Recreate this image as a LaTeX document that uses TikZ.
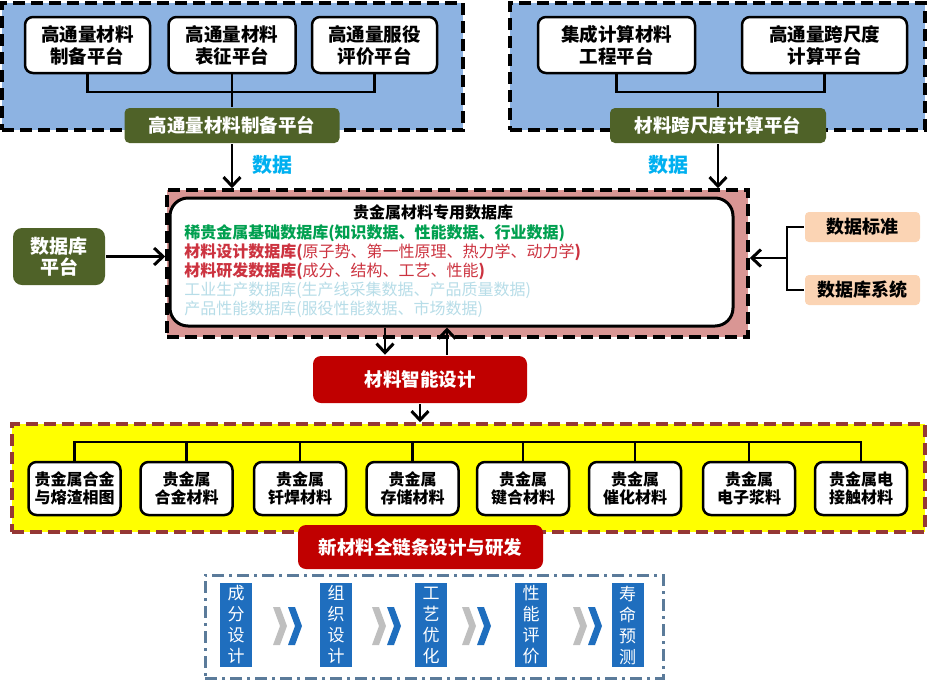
\documentclass[tikz,border=0pt]{standalone}
\usepackage{fontspec}
\setmainfont{Noto Sans CJK SC}
\usetikzlibrary{arrows.meta}
\definecolor{topblue}{HTML}{8DB3E2}
\definecolor{platgreen}{HTML}{4F6228}
\definecolor{dbpink}{HTML}{D99694}
\definecolor{peach}{HTML}{FBD4B4}
\definecolor{designred}{HTML}{C00000}
\definecolor{matyellow}{HTML}{FFFF00}
\definecolor{framebrown}{HTML}{953735}
\definecolor{chaingray}{HTML}{5B7B9A}
\definecolor{stageblue}{HTML}{1F6EBE}
\definecolor{chevgray}{HTML}{BFBFBF}
\definecolor{textgreen}{HTML}{00A050}
\definecolor{textred}{HTML}{CC3340}
\definecolor{textpale}{HTML}{B7DDE8}
\definecolor{datacyan}{HTML}{00B0F0}
\begin{document}
\begin{tikzpicture}[x=1pt, y=-1pt, line width=2.5pt,
  >={Straight Barb[length=9pt,width=17pt,line width=3pt]},
  dashframe/.style={draw, line width=3.5pt, dash pattern=on 12pt off 6pt, inner sep=0pt},
  platbox/.style={draw, fill=white, rounded corners=8pt, minimum height=56pt, inner sep=0pt, align=center, font=\bfseries\fontsize{18.5}{22}\selectfont},
  greentag/.style={fill=platgreen, text=white, rounded corners=5pt, inner sep=0pt, font=\bfseries\fontsize{18.5}{22}\selectfont},
  redtag/.style={fill=designred, text=white, rounded corners=8pt, inner sep=0pt, font=\bfseries\fontsize{18.5}{22}\selectfont},
  peachtag/.style={fill=peach, rounded corners=4pt, minimum width=115pt, minimum height=30pt, inner sep=0pt, font=\bfseries\fontsize{18}{22}\selectfont},
  matbox/.style={draw, fill=white, rounded corners=8pt, minimum width=92pt, minimum height=53pt, inner sep=0pt, align=center, font=\bfseries\fontsize{16}{18.5}\selectfont},
  stagebox/.style={fill=stageblue, text=white, minimum width=32pt, minimum height=84pt, inner sep=0pt, align=center, font=\fontsize{17}{21}\selectfont},
  datalabel/.style={text=datacyan, font=\bfseries\fontsize{20}{24}\selectfont},
  dbline/.style={anchor=base west, inner sep=0pt, font=\fontsize{16}{19}\selectfont}]
  \useasboundingbox (0,0) rectangle (927,681);

  \node[dashframe, fill=topblue, minimum width=461pt, minimum height=127pt] (leftpanel) at (232.5,66.5) {};
  \node[dashframe, fill=topblue, minimum width=415pt, minimum height=127pt] (rightpanel) at (717.5,66.5) {};
  \node[platbox, minimum width=125pt] (prep) at (87.5,45) {高通量材料\\制备平台};
  \node[platbox, minimum width=127pt] (charac) at (232,45) {高通量材料\\表征平台};
  \node[platbox, minimum width=125pt] (service) at (374.5,45) {高通量服役\\评价平台};
  \node[platbox, minimum width=157pt] (integ) at (616.5,45) {集成计算材料\\工程平台};
  \node[platbox, minimum width=165pt] (multi) at (824.5,45) {高通量跨尺度\\计算平台};
  \node[greentag, minimum width=215pt, minimum height=35pt] (expplat) at (232,125.5) {高通量材料制备平台};
  \node[greentag, minimum width=216pt, minimum height=35pt] (compplat) at (718,125.5) {材料跨尺度计算平台};
  \coordinate (topbus) at (0,92);
  \draw (prep.south) |- (topbus -| service.south) -- (service.south);
  \draw (charac.south) -- (expplat.north);
  \draw (integ.south) |- (topbus -| multi.south) -- (multi.south);
  \draw (compplat.north) -- (compplat.north |- topbus);

  \node[dashframe, fill=dbpink, minimum width=581pt, minimum height=147pt] (dbframe) at (457.5,263.5) {};
  \node[draw, fill=white, line width=3pt, rounded corners=18pt, minimum width=563pt, minimum height=128pt, inner sep=0pt] (dbbox) at (451.5,262) {};
  \node[anchor=base, inner sep=0pt, font=\bfseries\fontsize{16}{19}\selectfont] (dbtitle) at (433,218) {贵金属材料专用数据库};
  \node[dbline, text=textgreen, font=\bfseries\fontsize{16}{19}\selectfont] (dbl1) at (183,238) {稀贵金属基础数据库(知识数据、性能数据、行业数据)};
  \node[dbline, text=textred] (dbl2) at (183,257) {{\bfseries 材料设计数据库(}原子势、第一性原理、热力学、动力学{\bfseries )}};
  \node[dbline, text=textred] (dbl3) at (183,276) {{\bfseries 材料研发数据库(}成分、结构、工艺、性能{\bfseries )}};
  \node[dbline, text=textpale] (dbl4) at (183,295) {工业生产数据库(生产线采集数据、产品质量数据)};
  \node[dbline, text=textpale] (dbl5) at (183,314) {产品性能数据库(服役性能数据、市场数据)};

  \draw[->] (expplat.south) -- (expplat.south |- dbframe.north);
  \draw[->] (compplat.south) -- (compplat.south |- dbframe.north);
  \node[datalabel] (data1) at (272,165) {数据};
  \node[datalabel] (data2) at (668,165) {数据};

  \node[greentag, rounded corners=9pt, minimum width=92pt, minimum height=57pt, align=center, font=\bfseries\fontsize{19}{21}\selectfont] (dbplat) at (59,256.5) {数据库\\平台};
  \draw[->] (dbplat.east) -- (dbplat.east -| dbframe.west);

  \node[peachtag] (dstd) at (862.5,227) {数据标准};
  \node[peachtag] (dsys) at (862.5,290) {数据库系统};
  \coordinate (brace) at (787,258);
  \draw (dstd.west) -| (brace) |- (dsys.west);
  \draw[->] (brace) -- (brace -| dbframe.east);

  \node[redtag, minimum width=214pt, minimum height=47pt] (smart) at (420,379.5) {材料智能设计};
  \coordinate (downx) at (385,0);
  \coordinate (upx) at (447,0);
  \draw[->] (dbbox.south -| downx) -- (smart.north -| downx);
  \draw[->] (smart.north -| upx) -- (dbbox.south -| upx);

  \node[dashframe, draw=framebrown, fill=matyellow, minimum width=913pt, minimum height=108pt] (matframe) at (468.5,478) {};
  \draw[->] (smart.south) -- (smart.south |- matframe.north);
  \node[matbox] (m1) at (74.5,488.5) {贵金属合金\\与熔渣相图};
  \node[matbox] (m2) at (186.5,488.5) {贵金属\\合金材料};
  \node[matbox] (m3) at (300,488.5) {贵金属\\钎焊材料};
  \node[matbox] (m4) at (412.5,488.5) {贵金属\\存储材料};
  \node[matbox] (m5) at (523,488.5) {贵金属\\键合材料};
  \node[matbox] (m6) at (635,488.5) {贵金属\\催化材料};
  \node[matbox] (m7) at (749,488.5) {贵金属\\电子浆料};
  \node[matbox] (m8) at (861,488.5) {贵金属电\\接触材料};
  \coordinate (matbus) at (0,442);
  \draw (m1.north) |- (matbus -| m8.north) -- (m8.north);
  \draw (m2.north) -- (m2.north |- matbus);
  \draw (m3.north) -- (m3.north |- matbus);
  \draw (m4.north) -- (m4.north |- matbus);
  \draw (m5.north) -- (m5.north |- matbus);
  \draw (m6.north) -- (m6.north |- matbus);
  \draw (m7.north) -- (m7.north |- matbus);

  \node[redtag, minimum width=245pt, minimum height=44pt] (chain) at (420.5,547) {新材料全链条设计与研发};

  \node[draw=chaingray, line width=3pt, dash pattern=on 12pt off 5pt on 3pt off 5pt, minimum width=458pt, minimum height=103pt, inner sep=0pt] (chainframe) at (434,626.5) {};
  \node[stagebox] (s1) at (236,625) {成\\分\\设\\计};
  \node[stagebox] (s2) at (336,625) {组\\织\\设\\计};
  \node[stagebox] (s3) at (431,625) {工\\艺\\优\\化};
  \node[stagebox] (s4) at (531,625) {性\\能\\评\\价};
  \node[stagebox] (s5) at (627.5,625) {寿\\命\\预\\测};
  \fill[chevgray] (273,607) -- ++(7,0) -- ++(7,19) -- ++(-7,19) -- ++(-7,0) -- ++(7,-19) -- cycle;
  \fill[stageblue] (288,607) -- ++(7,0) -- ++(7,19) -- ++(-7,19) -- ++(-7,0) -- ++(7,-19) -- cycle;
  \fill[chevgray] (372,607) -- ++(7,0) -- ++(7,19) -- ++(-7,19) -- ++(-7,0) -- ++(7,-19) -- cycle;
  \fill[stageblue] (387,607) -- ++(7,0) -- ++(7,19) -- ++(-7,19) -- ++(-7,0) -- ++(7,-19) -- cycle;
  \fill[chevgray] (462,607) -- ++(7,0) -- ++(7,19) -- ++(-7,19) -- ++(-7,0) -- ++(7,-19) -- cycle;
  \fill[stageblue] (477,607) -- ++(7,0) -- ++(7,19) -- ++(-7,19) -- ++(-7,0) -- ++(7,-19) -- cycle;
  \fill[chevgray] (573,607) -- ++(7,0) -- ++(7,19) -- ++(-7,19) -- ++(-7,0) -- ++(7,-19) -- cycle;
  \fill[stageblue] (588,607) -- ++(7,0) -- ++(7,19) -- ++(-7,19) -- ++(-7,0) -- ++(7,-19) -- cycle;
\end{tikzpicture}
\end{document}
